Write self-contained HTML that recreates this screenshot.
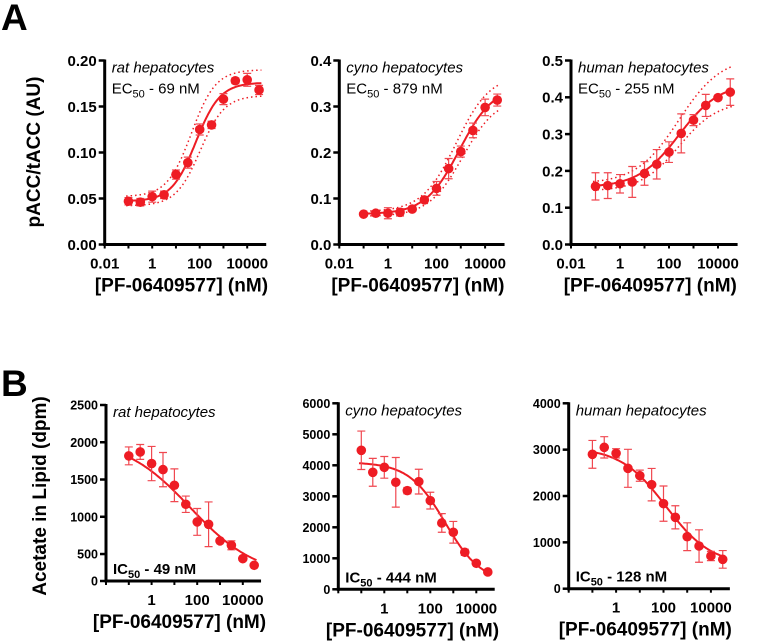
<!DOCTYPE html>
<html><head><meta charset="utf-8"><style>
html,body{margin:0;padding:0;background:#fff;}
svg{display:block;font-family:"Liberation Sans",Arial,sans-serif;}
</style></head><body>
<svg id="fig" width="758" height="644" viewBox="0 0 758 644" xmlns="http://www.w3.org/2000/svg">
<text x="1" y="30" font-size="37" font-weight="bold">A</text>
<text x="1" y="396" font-size="37" font-weight="bold">B</text>
<text transform="translate(40,152) rotate(-90)" text-anchor="middle" font-size="19" font-weight="bold">pACC/tACC (AU)</text>
<text transform="translate(46,496) rotate(-90)" text-anchor="middle" font-size="19" font-weight="bold">Acetate in Lipid (dpm)</text>
<g id="plots"></g>
</svg>
<script>
// shared concentrations (nM)
const conc = [0.1, 0.316, 1, 3.16, 10, 31.6, 100, 316, 1000, 3160, 10000, 31600];

// Panel A: pACC/tACC
const ratA = [0.047, 0.046, 0.052, 0.054, 0.076, 0.089, 0.125, 0.130, 0.158, 0.178, 0.179, 0.168];
const ratAErr = [0.004, 0.004, 0.006, 0.004, 0.005, 0.006, 0.006, 0.004, 0.006, 0.003, 0.007, 0.005];
const cynoA = [0.066, 0.068, 0.068, 0.070, 0.077, 0.097, 0.122, 0.165, 0.202, 0.248, 0.298, 0.314];
const cynoAErr = [0.004, 0.005, 0.012, 0.008, 0.005, 0.005, 0.015, 0.022, 0.012, 0.016, 0.018, 0.013];
const humanA = [0.158, 0.160, 0.165, 0.170, 0.193, 0.218, 0.251, 0.302, 0.338, 0.378, 0.399, 0.414];
const humanAErr = [0.037, 0.035, 0.025, 0.042, 0.032, 0.040, 0.028, 0.053, 0.015, 0.030, 0.006, 0.036];
// fit params: bottom, top, ec50, hill
const ratAFit = [0.047, 0.176, 69, 0.85];
const cynoAFit = [0.066, 0.345, 879, 0.62];
const humanAFit = [0.155, 0.44, 255, 0.52];
const ratAFitHi = [0.052, 0.19, 45, 0.85];
const ratAFitLo = [0.042, 0.162, 105, 0.85];
const cynoAFitHi = [0.071, 0.37, 650, 0.62];
const cynoAFitLo = [0.061, 0.32, 1200, 0.62];
const humanAFitHi = [0.165, 0.51, 250, 0.5];
const humanAFitLo = [0.145, 0.39, 260, 0.55];

// Panel B: acetate in lipid (dpm)
const ratB = [1817, 1870, 1714, 1633, 1423, 1168, 931, 899, 676, 617, 438, 349];
const ratBErr = [120, 100, 230, 230, 220, 110, 180, 300, 20, 60, 20, 20];
const cynoB = [4484, 3774, 3935, 3452, 3183, 3473, 2860, 2140, 1839, 1194, 839, 559];
const cynoBErr = [620, 450, 350, 800, 100, 400, 270, 300, 350, 100, 40, 40];
const humanB = [2899, 3050, 2921, 2597, 2439, 2245, 1835, 1540, 1122, 921, 705, 633];
const humanBErr = [300, 230, 100, 410, 120, 350, 380, 250, 300, 350, 100, 190];
const ratBFit = [2050, 200, 49, 0.3];
const cynoBFit = [4100, 200, 444, 0.55];
const humanBFit = [3050, 500, 128, 0.45];

const ticksA1 = [0, 0.05, 0.10, 0.15, 0.20];
const ticksA1Lbl = ["0.00", "0.05", "0.10", "0.15", "0.20"];
const ticksA2 = [0, 0.1, 0.2, 0.3, 0.4];
const ticksA2Lbl = ["0.0", "0.1", "0.2", "0.3", "0.4"];
const ticksA3 = [0, 0.1, 0.2, 0.3, 0.4, 0.5];
const ticksA3Lbl = ["0.0", "0.1", "0.2", "0.3", "0.4", "0.5"];
const ticksB1 = [0, 500, 1000, 1500, 2000, 2500];
const ticksB2 = [0, 1000, 2000, 3000, 4000, 5000, 6000];
const ticksB3 = [0, 1000, 2000, 3000, 4000];
const xTicksA = [0.01, 1, 100, 10000];
const xTicksALbl = ["0.01", "1", "100", "10000"];
const xTicksB = [1, 100, 10000];
const xTicksBLbl = ["1", "100", "10000"];

const NS = "http://www.w3.org/2000/svg";
const root = document.getElementById("plots");
function mk(tag, attrs, parent) {
  const e = document.createElementNS(NS, tag);
  for (const k in attrs) e.setAttribute(k, attrs[k]);
  (parent || root).appendChild(e);
  return e;
}
const RED = "#ee1c24";

function hillUp(p, c) { return p[0] + (p[1] - p[0]) / (1 + Math.pow(p[2] / c, p[3])); }
function hillDown(p, c) { return p[1] + (p[0] - p[1]) / (1 + Math.pow(c / p[2], p[3])); }

function plot(cfg) {
  const g = mk("g", {});
  
  
  const xs = c => cfg.x0 + (Math.log10(c) + 2) * cfg.dec;
  const ys = v => cfg.yBase - (v - cfg.yMin) / (cfg.yMax - cfg.yMin) * (cfg.yBase - cfg.yTop);
  const xEnd = cfg.x0 + 6.8 * cfg.dec;
  const ya = mk("line", {x1: cfg.x0, y1: cfg.yTop - 1, x2: cfg.x0, y2: cfg.yBase + 1.5, stroke: "#000", "stroke-width": 3}, g);
  
  
  const xa = mk("line", {x1: cfg.x0 - 1.5, y1: cfg.yBase, x2: xEnd, y2: cfg.yBase, stroke: "#000", "stroke-width": 3}, g);
  
  
  cfg.yTicks.forEach((v, i) => {
    const y = Math.min(ys(Math.max(v, cfg.yMin)), cfg.yBase);
    mk("line", {x1: cfg.x0 - 6, y1: y, x2: cfg.x0, y2: y, stroke: "#000", "stroke-width": 2.5}, g);
    const t = mk("text", {x: cfg.x0 - 8, y: y + cfg.tfs * 0.36, "text-anchor": "end", "font-size": cfg.tfs, "font-weight": "bold"}, g);
    t.textContent = cfg.yLbl[i];
    
    
  });
  for (let d = -2; d <= 4; d++) {
    const x = xs(Math.pow(10, d));
    mk("line", {x1: x, y1: cfg.yBase, x2: x, y2: cfg.yBase + 4, stroke: "#000", "stroke-width": 2}, g);
  }
  cfg.xTicks.forEach((v, i) => {
    const t = mk("text", {x: xs(v), y: cfg.yBase + 24, "text-anchor": "middle", "font-size": cfg.xfs, "font-weight": "bold"}, g);
    t.textContent = cfg.xLbl[i];
    
    
  });
  const xt = mk("text", {x: (cfg.x0 + xEnd) / 2 - 4, y: cfg.yBase + 47, "text-anchor": "middle", "font-size": 19, "font-weight": "bold"}, g);
  xt.textContent = "[PF-06409577] (nM)";
  
  
  const f = cfg.up ? hillUp : hillDown;
  function curve(p, dash, w) {
    let d = "";
    for (let k = 0; k <= 120; k++) {
      const lc = -1.1 + k * (5.7 / 120);
      const c = Math.pow(10, lc);
      d += (k ? "L" : "M") + xs(c).toFixed(1) + "," + ys(f(p, c)).toFixed(1);
    }
    const e = mk("path", {d: d, fill: "none", stroke: RED, "stroke-width": w}, g);
    if (dash) e.setAttribute("stroke-dasharray", "1.5,3");
    return e;
  }
  const fc = curve(cfg.fit, false, 2);
  
  
  if (cfg.hi) {
    const h = curve(cfg.hi, true, 1.5);
    
    
    const l = curve(cfg.lo, true, 1.5);
    
    
  }
  conc.forEach((c, i) => {
    const x = xs(c), y = ys(cfg.vals[i]);
    const e = cfg.err[i];
    const y1 = ys(cfg.vals[i] + e), y2 = ys(cfg.vals[i] - e);
    const eb = mk("path", {d: `M${x},${y1}L${x},${y2}M${x-4},${y1}L${x+4},${y1}M${x-4},${y2}L${x+4},${y2}`, stroke: "#f04850", "stroke-width": 1.2, fill: "none"}, g);
    
    
    const p = mk("circle", {cx: x, cy: y, r: 4.8, fill: RED}, g);
    
    
  });
  const t1 = mk("text", {x: cfg.x0 + 7, y: cfg.yTop + 12, "font-size": cfg.afs, "font-style": "italic"}, g);
  t1.textContent = cfg.title;
  
  
  const t2 = mk("text", {x: cfg.x0 + 7, y: cfg.upTxt ? cfg.yTop + 33 : cfg.yBase - 7, "font-size": cfg.afs, "font-weight": cfg.up ? "normal" : "bold"}, g);
  t2.innerHTML = (cfg.up ? "EC" : "IC") + '<tspan font-size="' + (cfg.afs - 4) + '" dy="4">50</tspan><tspan dy="-4"> - ' + cfg.potency + '</tspan>';
  
  
}

plot({name: "plot-a-rat", x0: 104.7, dec: 23.75, yTop: 60.5, yBase: 244.5, yMin: 0, yMax: 0.2, yTicks: ticksA1, yLbl: ticksA1Lbl, tfs: 15, xfs: 15, xTicks: xTicksA, xLbl: xTicksALbl, up: true, upTxt: true, fit: ratAFit, hi: ratAFitHi, lo: ratAFitLo, vals: ratA, err: ratAErr, afs: 15, title: "rat hepatocytes", potency: "69 nM"});
plot({name: "plot-a-cyno", x0: 339.3, dec: 24.3, yTop: 60.5, yBase: 244.5, yMin: 0, yMax: 0.4, yTicks: ticksA2, yLbl: ticksA2Lbl, tfs: 15, xfs: 15, xTicks: xTicksA, xLbl: xTicksALbl, up: true, upTxt: true, fit: cynoAFit, hi: cynoAFitHi, lo: cynoAFitLo, vals: cynoA, err: cynoAErr, afs: 15, title: "cyno hepatocytes", potency: "879 nM"});
plot({name: "plot-a-human", x0: 571, dec: 24.5, yTop: 60.5, yBase: 244.5, yMin: 0, yMax: 0.5, yTicks: ticksA3, yLbl: ticksA3Lbl, tfs: 15, xfs: 15, xTicks: xTicksA, xLbl: xTicksALbl, up: true, upTxt: true, fit: humanAFit, hi: humanAFitHi, lo: humanAFitLo, vals: humanA, err: humanAErr, afs: 15, title: "human hepatocytes", potency: "255 nM"});
plot({name: "plot-b-rat", x0: 106, dec: 22.8, yTop: 405, yBase: 581, yMin: 138, yMax: 2500, yTicks: ticksB1, yLbl: ticksB1.map(String), tfs: 12.5, xfs: 15, xTicks: xTicksB, xLbl: xTicksBLbl, up: false, upTxt: false, fit: ratBFit, vals: ratB, err: ratBErr, afs: 15, title: "rat hepatocytes", potency: "49 nM"});
plot({name: "plot-b-cyno", x0: 338.3, dec: 23, yTop: 403.3, yBase: 589.3, yMin: 0, yMax: 6000, yTicks: ticksB2, yLbl: ticksB2.map(String), tfs: 12.5, xfs: 15, xTicks: xTicksB, xLbl: xTicksBLbl, up: false, upTxt: false, fit: cynoBFit, vals: cynoB, err: cynoBErr, afs: 15, title: "cyno hepatocytes", potency: "444 nM"});
plot({name: "plot-b-human", x0: 568.7, dec: 23.7, yTop: 403.3, yBase: 588.7, yMin: 0, yMax: 4000, yTicks: ticksB3, yLbl: ticksB3.map(String), tfs: 12.5, xfs: 15, xTicks: xTicksB, xLbl: xTicksBLbl, up: false, upTxt: false, fit: humanBFit, vals: humanB, err: humanBErr, afs: 15, title: "human hepatocytes", potency: "128 nM"});
</script>
</body></html>
